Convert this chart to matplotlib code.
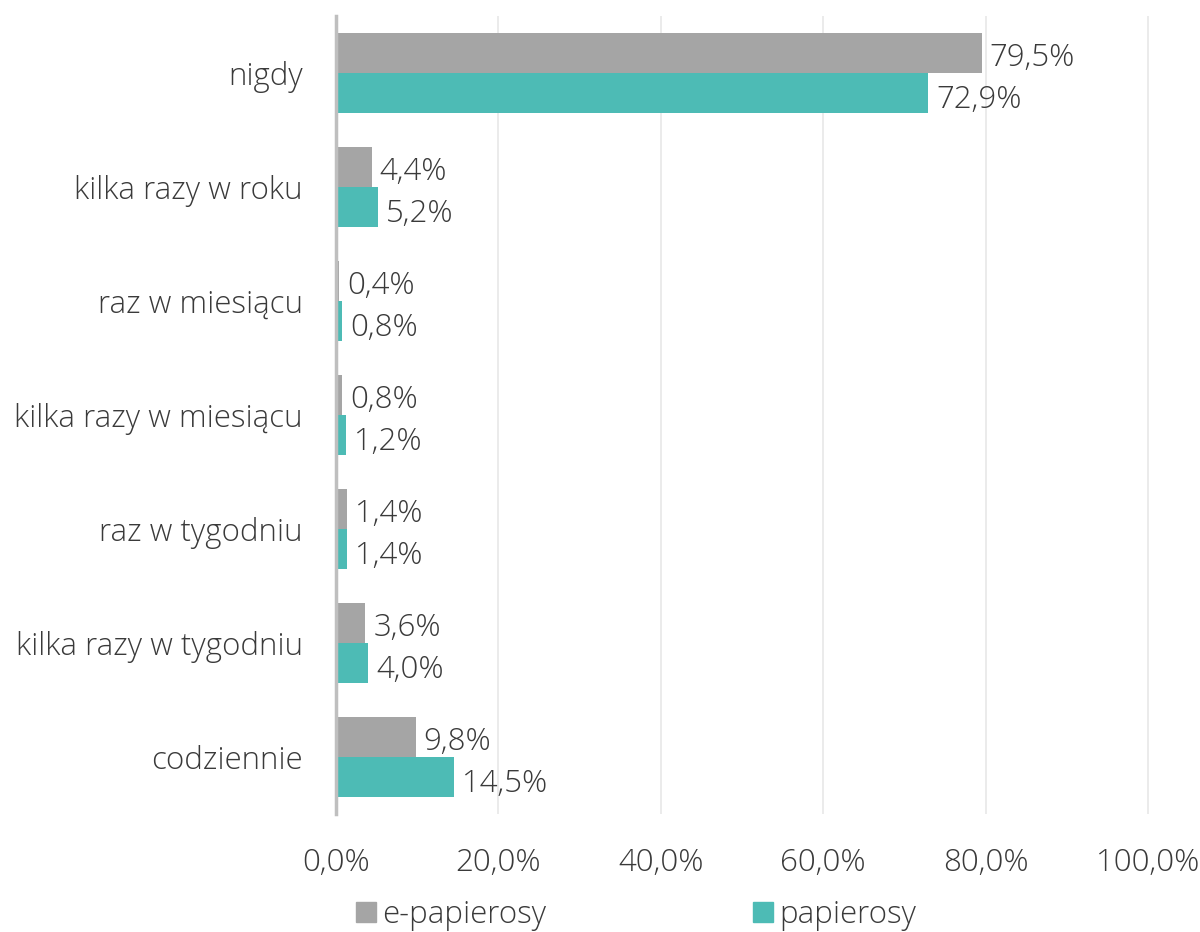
import matplotlib
matplotlib.use("Agg")
import matplotlib.pyplot as plt
import numpy as np
from matplotlib.patches import Patch

categories = ["nigdy", "kilka razy w roku", "raz w miesiącu", "kilka razy w miesiącu",
              "raz w tygodniu", "kilka razy w tygodniu", "codziennie"]
e_papierosy = [79.5, 4.4, 0.4, 0.8, 1.4, 3.6, 9.8]
papierosy = [72.9, 5.2, 0.8, 1.2, 1.4, 4.0, 14.5]
series_names = ["e-papierosy", "papierosy"]
xticks = [0, 20, 40, 60, 80, 100]

plt.rcParams['font.family'] = ['Open Sans', 'DejaVu Sans']
FW = 'light'
GRAY = '#A5A5A5'
TEAL = '#4DBBB5'
TXT = '#3A3A3A'
FS = 22.5

fig = plt.figure(figsize=(12, 9.32), dpi=100)
ax = fig.add_axes([336/1200, 1 - 814/932, 814/1200, 798/932])

n = len(categories)
y = np.arange(n)
h = 0.35
ax.barh(y - h/2, e_papierosy, height=h, color=GRAY)
ax.barh(y + h/2, papierosy, height=h, color=TEAL)

def fmt(v):
    return f"{v:.1f}%".replace('.', ',')

for i in range(n):
    ax.text(e_papierosy[i] + 1.0, y[i] - h/2 + 0.04, fmt(e_papierosy[i]), va='center', ha='left',
            fontsize=FS, fontweight=FW, color=TXT)
    ax.text(papierosy[i] + 1.0, y[i] + h/2 + 0.06, fmt(papierosy[i]), va='center', ha='left',
            fontsize=FS, fontweight=FW, color=TXT)

ax.set_ylim(n - 0.5, -0.5)
ax.set_xlim(0, 100.25)
ax.set_yticks(y)
ax.set_yticklabels(categories, fontsize=FS, fontweight=FW, color=TXT)
ax.set_xticks(xticks)
ax.set_xticklabels([f"{t:.1f}%".replace('.', ',') for t in xticks], fontsize=FS,
                   fontweight=FW, color=TXT)
ax.tick_params(axis='both', length=0)
ax.tick_params(axis='x', pad=24)
ax.tick_params(axis='y', pad=24)
for s in ['top', 'right', 'bottom']:
    ax.spines[s].set_visible(False)
ax.spines['left'].set_color('#BFBFBF')
ax.spines['left'].set_linewidth(2.5)
ax.xaxis.grid(True, color='#E8E8E8', linewidth=1.2)
ax.set_axisbelow(True)

handles = [Patch(color=GRAY, label=series_names[0]), Patch(color=TEAL, label=series_names[1])]
leg = fig.legend(handles=handles, loc='center', bbox_to_anchor=(0.53, 1 - 915/932), ncol=2,
                 frameon=False, fontsize=FS, columnspacing=6.6, handlelength=0.65, handleheight=0.65,
                 handletextpad=0.2)
for t in leg.get_texts():
    t.set_fontweight(FW)
    t.set_color(TXT)

fig.savefig("out.png", dpi=100)
